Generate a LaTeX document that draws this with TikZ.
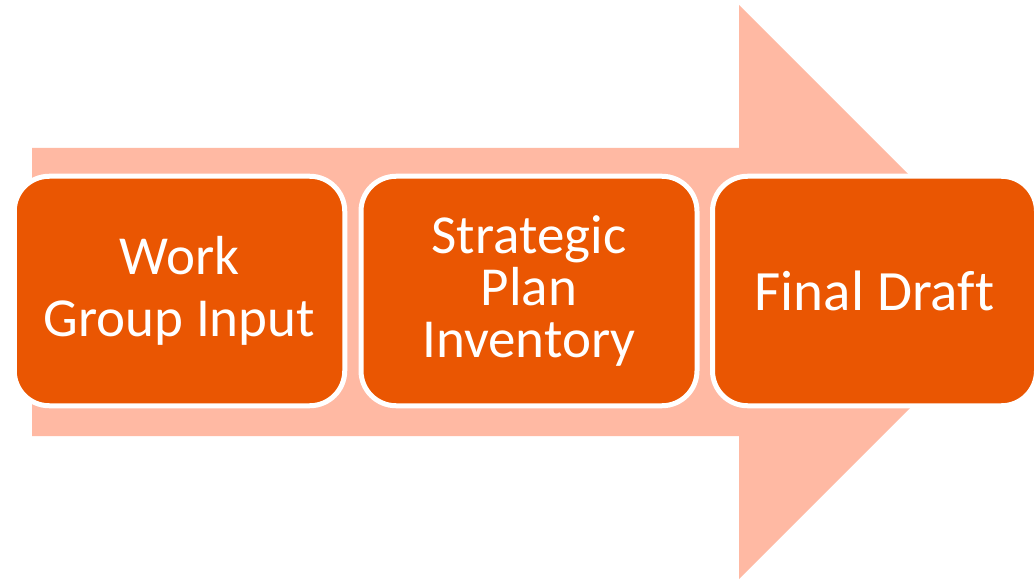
\documentclass[tikz,border=0pt]{standalone}
\usepackage{fontspec}
\setmainfont[Ligatures=NoCommon]{Carlito}
\usepackage{tikz}
\usetikzlibrary{positioning}
\definecolor{stageorange}{RGB}{234,86,2}
\definecolor{arrowpink}{RGB}{255,185,163}

\begin{document}
\begin{tikzpicture}
[x=1pt,y=-1pt,
stagebox/.style={rectangle,rounded corners=35pt,draw=white,line width=5pt,fill=stageorange,text=white,align=center,minimum height=229.5pt,inner sep=0pt},
stagetext/.style={font=\fontsize{55}{#1}\selectfont}]
\useasboundingbox (0,0) rectangle (1036,580);

% big background arrow
\fill[arrowpink] (32,148) -- (739,148) -- (739,5) -- (1026,292) -- (739,579) -- (739,436) -- (32,436) -- cycle;

\node[stagebox,minimum width=330.5pt,stagetext=62] (work) at (179.5,291) {Work\\Group Input};
\node[stagebox,minimum width=336pt,stagetext=52] (plan) at (529,291) {Strategic\\Plan\\Inventory};
\node[stagebox,minimum width=324pt,font=\fontsize{57}{64}\selectfont] (final) at (874.5,291) {Final Draft};
\end{tikzpicture}
\end{document}
